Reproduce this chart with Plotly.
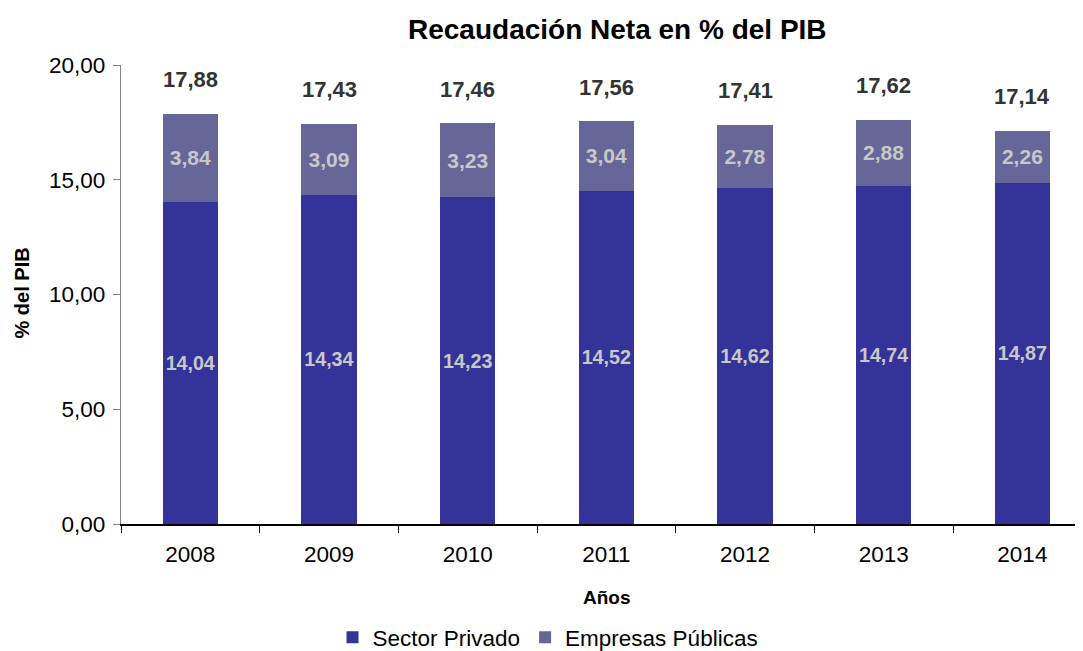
import plotly.graph_objects as go

years = ["2008", "2009", "2010", "2011", "2012", "2013", "2014"]
sector_privado = [14.04, 14.34, 14.23, 14.52, 14.62, 14.74, 14.87]
empresas_publicas = [3.84, 3.09, 3.23, 3.04, 2.78, 2.88, 2.26]
totales = [17.88, 17.43, 17.46, 17.56, 17.41, 17.62, 17.14]

FONT = "Liberation Sans, Arial, sans-serif"
OFF = 8  # default body margin of the page
W, H = 1083 - OFF, 651
L, R, T = 121 - OFF, 1, 65 - OFF
B = H - (525 - OFF)
plot_w = W - L - R
plot_h = H - T - B

def px_x(px):
    return (px - OFF - L) / plot_w

def px_y(py):
    return (H - B - (py - OFF)) / plot_h

fig = go.Figure()
for name, vals, col in [("Sector Privado", sector_privado, "#333399"),
                        ("Empresas Públicas", empresas_publicas, "#666699")]:
    fig.add_trace(go.Bar(
        x=years, y=vals, name=name,
        marker=dict(color=col, line=dict(width=0)),
        width=0.4,
        texttemplate="%{y:.2f}", textposition="inside", insidetextanchor="middle",
        textfont=dict(family=FONT, size=21, color="#C8C8C8", weight="bold"),
        textangle=0,
    ))

annotations = []
for i, tot in enumerate(totales):
    annotations.append(dict(
        x=i, y=tot, xref="x", yref="y", text=f"{tot:.2f}".replace(".", ","),
        showarrow=False, yanchor="middle", yshift=34,
        font=dict(family=FONT, size=22, color="#333333", weight="bold"),
    ))

annotations += [
    dict(x=px_x(617), y=px_y(29), xref="paper", yref="paper", text="Recaudación Neta en % del PIB",
         showarrow=False, xanchor="center", yanchor="middle",
         font=dict(family=FONT, size=28, color="#000000", weight="bold")),
    dict(x=px_x(607), y=px_y(599), xref="paper", yref="paper", text="Años",
         showarrow=False, xanchor="center", yanchor="middle",
         font=dict(family=FONT, size=19, color="#000000", weight="bold")),
    dict(x=px_x(22), y=px_y(294), xref="paper", yref="paper", text="% del PIB",
         showarrow=False, xanchor="center", yanchor="middle", textangle=-90,
         font=dict(family=FONT, size=20, color="#000000", weight="bold")),
]

fig.update_layout(
    width=W, height=H,
    margin=dict(l=L, r=R, t=T, b=B),
    barmode="stack",
    separators=",.",
    plot_bgcolor="white", paper_bgcolor="white",
    font=dict(family=FONT, size=22, color="#000000"),
    showlegend=True,
    legend=dict(orientation="h", x=px_x(548), y=px_y(638), xanchor="center", yanchor="middle",
                font=dict(family=FONT, size=22.5, color="#000000"),
                traceorder="normal", bgcolor="rgba(0,0,0,0)", tracegroupgap=0),
    annotations=annotations,
    uniformtext=dict(mode=False),
)
fig.update_xaxes(
    type="category", range=[-0.5, 6.43],
    showline=True, linecolor="#000000", linewidth=1.5,
    ticks="outside", tickson="boundaries", ticklen=7, tickcolor="#000000",
    showgrid=False, tickfont=dict(family=FONT, size=22.5, color="#000000"),
    ticklabelstandoff=9,
)
fig.update_yaxes(
    range=[0, 20], tickvals=[0, 5, 10, 15, 20], tickformat=".2f",
    showline=True, linecolor="#808080", linewidth=1.2,
    ticks="outside", ticklen=7, tickcolor="#808080",
    showgrid=False, zeroline=False,
    tickfont=dict(family=FONT, size=22.5, color="#000000"),
    ticklabelstandoff=3,
)

fig.write_html("out.html")
